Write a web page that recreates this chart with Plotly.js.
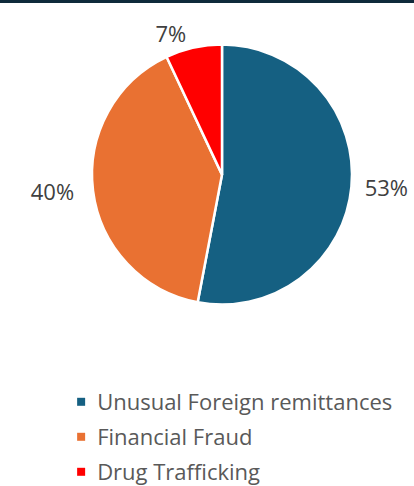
<!DOCTYPE html>
<html>
<head>
<meta charset="utf-8">
<script src="https://cdn.plot.ly/plotly-3.0.1.min.js"></script>
<style>
html,body{margin:0;padding:0;background:#fff;}
#topbar{position:absolute;left:0;top:0;width:414px;height:3px;background:#0f2a3b;z-index:5;}
#chart{width:414px;height:486px;}
</style>
</head>
<body>
<div id="topbar"></div>
<div id="chart"></div>
<script>
const categories = ["Unusual Foreign remittances", "Financial Fraud", "Drug Trafficking"];
const shares = [53, 40, 7];
const sliceColors = ["#156082", "#E97132", "#FF0000"];
// outside labels, padded slightly away from the pie like the reference
const labelTemplates = ["\u00a0%{percent:.0%}", "%{percent:.0%}\u00a0\u00a0", "%{percent:.0%}"];

const trace = {
  type: "pie",
  labels: categories,
  values: shares,
  sort: false,
  direction: "clockwise",
  rotation: 0,
  marker: {colors: sliceColors, line: {color: "#ffffff", width: 2.5}},
  textposition: "outside",
  texttemplate: labelTemplates,
  textfont: {family: "Open Sans, sans-serif", size: 22, color: "#404040"},
  hoverinfo: "label+percent",
  automargin: false,
  domain: {x: [0.0725, 1.0], y: [0.372, 0.908]}
};

const layout = {
  width: 414,
  height: 486,
  margin: {l: 0, r: 0, t: 0, b: 0},
  paper_bgcolor: "#ffffff",
  showlegend: true,
  legend: {
    x: 0.138, y: 0.215, xanchor: "left", yanchor: "top",
    orientation: "v",
    bgcolor: "rgba(0,0,0,0)",
    font: {family: "Open Sans, sans-serif", size: 22, color: "#595959"},
    itemclick: false
  },
  font: {family: "Open Sans, sans-serif"}
};

Plotly.newPlot("chart", [trace], layout, {displayModeBar: false, staticPlot: true}).then(function (gd) {
  // smaller square legend swatches, as in the reference
  gd.querySelectorAll(".legend .legendpoints path").forEach(function (p) {
    p.setAttribute("d", "M8,4H0V-4H8Z");
    p.style.strokeWidth = "0";
  });
  // slightly looser row spacing in the legend
  const sb = gd.querySelector(".legend .scrollbox");
  if (sb) sb.removeAttribute("clip-path");
  const items = gd.querySelectorAll(".legend .traces");
  let y0 = null;
  items.forEach(function (g, i) {
    const m = /translate\(([-\d.]+)[ ,]+([-\d.]+)\)/.exec(g.getAttribute("transform") || "");
    if (!m) return;
    if (y0 === null) y0 = parseFloat(m[2]);
    g.setAttribute("transform", "translate(" + m[1] + "," + (y0 + i * 35) + ")");
  });
});
</script>
</body>
</html>
